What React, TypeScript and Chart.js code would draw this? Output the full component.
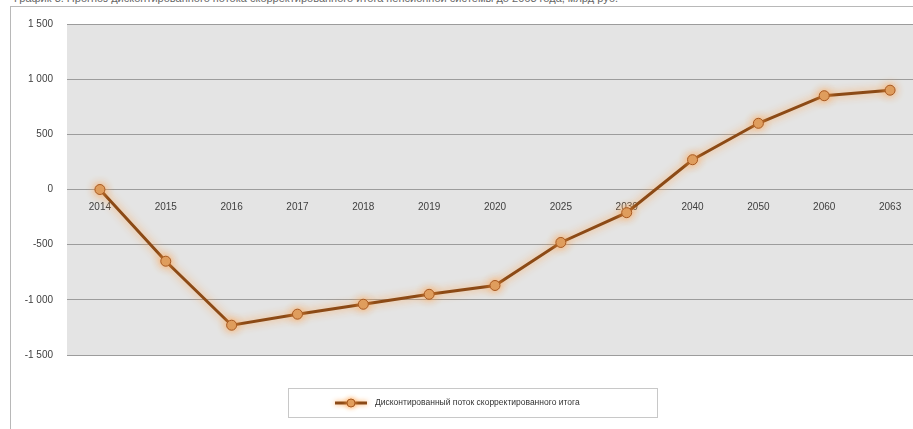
import React, { useEffect, useRef } from "react";
import { Chart, registerables } from "chart.js";

Chart.register(...registerables);

const categories = ["2014", "2015", "2016", "2017", "2018", "2019", "2020", "2025", "2030", "2040", "2050", "2060", "2063"];
const seriesValues = [0, -650, -1230, -1130, -1040, -950, -870, -480, -210, 270, 600, 850, 900];
const seriesLabel = "Дисконтированный поток скорректированного итога";
const titleText = "График 3. Прогноз дисконтированного потока скорректированного итога пенсионной системы до 2063 года, млрд руб.";
const yMin = -1500;
const yMax = 1500;
const yStep = 500;

const LINE = "#8c4a16";
const MARK_FILL = "#dc9d60";
const MARK_BORDER = "#a85a22";

function fmt(v: number): string {
  const s = Math.abs(v).toString();
  const withSp = s.length > 3 ? s.slice(0, s.length - 3) + " " + s.slice(s.length - 3) : s;
  return (v < 0 ? "-" : "") + withSp;
}

const bgPlugin = {
  id: "plotBg",
  beforeDraw(chart: any) {
    const { ctx, chartArea } = chart;
    ctx.save();
    ctx.fillStyle = "#e4e4e4";
    ctx.fillRect(chartArea.left, chartArea.top, chartArea.right - chartArea.left, chartArea.bottom - chartArea.top);
    ctx.restore();
  },
};

const glowPlugin = {
  id: "glow",
  beforeDatasetsDraw(chart: any) {
    const ctx = chart.ctx;
    ctx.save();
    ctx.shadowColor = "rgba(255,160,70,0.9)";
    ctx.shadowBlur = 8;
  },
  afterDatasetsDraw(chart: any) {
    chart.ctx.restore();
  },
};

const legendPlugin = {
  id: "customLegend",
  afterDraw(chart: any) {
    const { ctx, chartArea } = chart;
    const top = chartArea.bottom + 33;
    const left = 277;
    const w = 369;
    const h = 29;
    ctx.save();
    ctx.fillStyle = "#ffffff";
    ctx.fillRect(left, top, w, h);
    ctx.strokeStyle = "#c8c8c8";
    ctx.lineWidth = 1;
    ctx.strokeRect(left + 0.5, top + 0.5, w, h);
    const cy = top + 15;
    ctx.shadowColor = "rgba(255,160,70,0.9)";
    ctx.shadowBlur = 5;
    ctx.strokeStyle = LINE;
    ctx.lineWidth = 3;
    ctx.beginPath();
    ctx.moveTo(left + 47, cy);
    ctx.lineTo(left + 79, cy);
    ctx.stroke();
    ctx.beginPath();
    ctx.arc(left + 63, cy, 4, 0, Math.PI * 2);
    ctx.fillStyle = MARK_FILL;
    ctx.fill();
    ctx.lineWidth = 1;
    ctx.strokeStyle = MARK_BORDER;
    ctx.stroke();
    ctx.shadowBlur = 0;
    ctx.fillStyle = "#333333";
    ctx.font = "8.5px 'Liberation Sans', Arial, sans-serif";
    ctx.textBaseline = "middle";
    ctx.fillText(seriesLabel, left + 87, cy);
    ctx.restore();
  },
};

export default function App() {
  const ref = useRef<HTMLCanvasElement | null>(null);

  useEffect(() => {
    if (!ref.current) return;
    const chart = new Chart(ref.current, {
      type: "line",
      data: {
        labels: categories,
        datasets: [
          {
            label: seriesLabel,
            data: seriesValues,
            borderColor: LINE,
            borderWidth: 3,
            pointRadius: 5,
            pointBackgroundColor: MARK_FILL,
            pointBorderColor: MARK_BORDER,
            pointBorderWidth: 1,
            tension: 0,
          },
        ],
      },
      plugins: [bgPlugin, glowPlugin, legendPlugin],
      options: {
        responsive: false,
        animation: false,
        layout: { padding: { left: 0, right: 8, top: 12, bottom: 74 } },
        plugins: {
          legend: { display: false },
          tooltip: { enabled: false },
          title: { display: false },
        },
        scales: {
          x: {
            type: "category",
            position: { y: 0 } as any,
            offset: true,
            grid: { display: false, drawTicks: false },
            border: { display: false },
            ticks: {
              color: "#404040",
              font: { family: "'Liberation Sans', Arial, sans-serif", size: 10 },
              padding: 12,
              maxRotation: 0,
              autoSkip: false,
            },
          },
          y: {
            min: yMin,
            max: yMax,
            afterFit(scale: any) {
              scale.width = 56;
            },
            grid: { color: "#9c9c9c", lineWidth: 1, drawTicks: false },
            border: { display: false },
            ticks: {
              stepSize: yStep,
              color: "#404040",
              font: { family: "'Liberation Sans', Arial, sans-serif", size: 10 },
              padding: 14,
              callback: (v: any) => fmt(Number(v)),
            },
          },
        },
      },
    });
    return () => chart.destroy();
  }, []);

  return (
    <div style={{ position: "fixed", left: 0, top: 0, width: 913, height: 429, overflow: "hidden", background: "#fff" }}>
      <div
        style={{
          position: "absolute",
          left: 14,
          top: -8,
          whiteSpace: "nowrap",
          fontFamily: "'Liberation Sans', Arial, sans-serif",
          fontSize: 11,
          color: "#666666",
        }}
      >
        {titleText}
      </div>
      <div
        style={{
          position: "absolute",
          left: 10,
          top: 6,
          width: 1000,
          height: 500,
          border: "1px solid #b8b8b8",
          background: "#fff",
        }}
      />
      <canvas ref={ref} width={920} height={425} style={{ position: "absolute", left: 11, top: 4, width: 920, height: 425 }} />
    </div>
  );
}
